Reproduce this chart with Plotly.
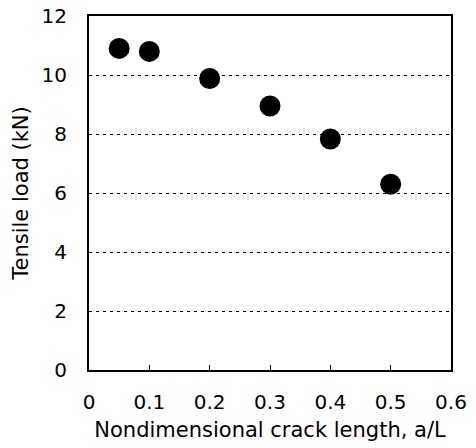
import plotly.graph_objects as go

crack_length = [0.05, 0.1, 0.2, 0.3, 0.4, 0.5]
tensile_load = [10.9, 10.8, 9.88, 8.95, 7.83, 6.3]
x_ticks = [0, 0.1, 0.2, 0.3, 0.4, 0.5, 0.6]
x_tick_labels = ["0", "0.1", "0.2", "0.3", "0.4", "0.5", "0.6"]
y_ticks = [0, 2, 4, 6, 8, 10, 12]
y_tick_labels = ["0", "2", "4", "6", "8", "10", "12"]

font_family = "DejaVu Sans, Liberation Sans, Arial, sans-serif"

fig = go.Figure()
fig.add_trace(go.Scatter(
    x=crack_length, y=tensile_load, mode="markers",
    marker=dict(color="black", size=21, line=dict(width=0)),
    showlegend=False, cliponaxis=False,
))

fig.update_layout(
    width=476, height=448,
    margin=dict(l=89, r=25, t=16, b=78),
    paper_bgcolor="white", plot_bgcolor="white",
    font=dict(family=font_family, size=20, color="black"),
    xaxis=dict(
        range=[0, 0.6], tickmode="array", tickvals=x_ticks, ticktext=x_tick_labels,
        showline=True, linecolor="black", linewidth=2, mirror=True,
        ticks="inside", ticklen=5, tickcolor="black", tickwidth=1,
        showgrid=False, zeroline=False, automargin=False,
        title=dict(text="Nondimensional crack length, a/L", font=dict(size=21), standoff=9),
        ticklabelstandoff=13,
    ),
    yaxis=dict(
        range=[0, 12], tickmode="array", tickvals=y_ticks, ticktext=y_tick_labels,
        showline=True, linecolor="black", linewidth=2, mirror=True,
        ticks="", showgrid=True, gridcolor="black", gridwidth=1, griddash="3px,4px",
        zeroline=False, automargin=False,
        title=dict(text="Tensile load (kN)", font=dict(size=21), standoff=7),
        ticklabelstandoff=16,
    ),
)

fig.write_html(
    "out.html",
    config={"displayModeBar": False},
    post_script="document.body.style.margin='0';document.body.style.overflow='hidden';",
)
